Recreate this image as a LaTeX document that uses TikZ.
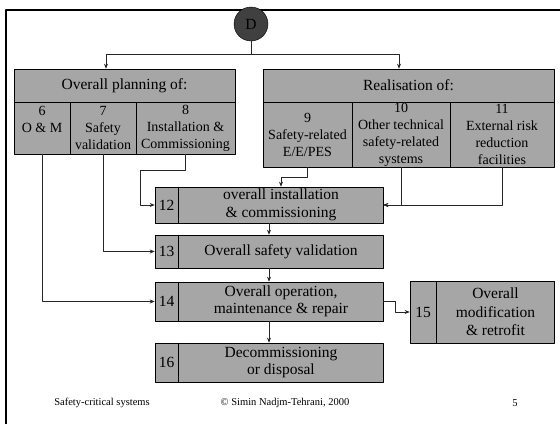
\documentclass[tikz,border=0pt]{standalone}
\usepackage{fontspec}
\setmainfont{Liberation Serif}
\usetikzlibrary{arrows.meta,calc}

\begin{document}
\begin{tikzpicture}[x=1pt,y=-1pt,>={Stealth[length=5pt,width=4pt]},line join=round,
  box/.style={draw=black,fill=gray!70,line width=0.6pt,inner sep=0pt,align=center,font=\fontsize{15.5}{17.5}\selectfont},
  sub/.style={box,font=\fontsize{14}{17}\selectfont},
  txt/.style={inner sep=0pt,align=center,font=\fontsize{15.5}{17.5}\selectfont},
  foot/.style={inner sep=0pt,font=\fontsize{10.5}{12}\selectfont},
  flow/.style={->,line width=0.6pt,black!85}]
  \useasboundingbox (0,0) rectangle (560,424);
  % slide frame
  \draw[line width=2pt] (6,424) -- (6,10) -- (560,10);
  \node[circle,draw=black,fill=black!75,minimum size=34,inner sep=0pt,font=\fontsize{15.5}{17.5}\selectfont] (D) at (251,24) {D};
  % planning
  \node[box,minimum width=221,minimum height=33] (planhead) at (124.5,85.5) {Overall planning of:};
  \node[sub,minimum width=56,minimum height=52] (p6) at (42,128) {6\\O \& M\\\mbox{}};
  \node[sub,minimum width=66,minimum height=52] (p7) at (103,128) {7\\Safety\\validation};
  \node[sub,minimum width=99,minimum height=52] (p8) at (185.5,128) {8\\Installation \&\\Commissioning};
  % realisation
  \node[box,minimum width=291,minimum height=33] (realhead) at (408.5,85.5) {Realisation of:};
  \node[sub,minimum width=89,minimum height=65] (r9) at (307.5,134.5) {9\\Safety-related\\E/E/PES};
  \node[sub,minimum width=98,minimum height=65] (r10) at (401,134.5) {10\\Other technical\\safety-related\\systems};
  \node[sub,minimum width=104,minimum height=65] (r11) at (502,134.5) {11\\External risk\\reduction\\facilities};
  % phases
  \node[box,minimum width=228,minimum height=36] (b12) at (269,205) {};
  \draw[line width=0.6pt] ([xshift=24]b12.north west) -- ([xshift=24]b12.south west);
  \node[txt] (n12) at ($(b12.west)+(12,0)$) {12};
  \node[txt] (t12) at ($(b12.center)+(12,0)$) {overall installation\\\& commissioning};
  \node[box,minimum width=228,minimum height=33] (b13) at (269,251.5) {};
  \draw[line width=0.6pt] ([xshift=24]b13.north west) -- ([xshift=24]b13.south west);
  \node[txt] (n13) at ($(b13.west)+(12,0)$) {13};
  \node[txt] (t13) at ($(b13.center)+(12,0)$) {Overall safety validation};
  \node[box,minimum width=228,minimum height=39] (b14) at (269,301.5) {};
  \draw[line width=0.6pt] ([xshift=24]b14.north west) -- ([xshift=24]b14.south west);
  \node[txt] (n14) at ($(b14.west)+(12,0)$) {14};
  \node[txt] (t14) at ($(b14.center)+(12,0)$) {Overall operation,\\maintenance \& repair};
  \node[box,minimum width=144,minimum height=62] (b15) at (482,312) {};
  \draw[line width=0.6pt] ([xshift=27]b15.north west) -- ([xshift=27]b15.south west);
  \node[txt] (n15) at ($(b15.west)+(13.5,0)$) {15};
  \node[txt,font=\fontsize{15.5}{18.5}\selectfont] (t15) at ($(b15.center)+(13.5,0)$) {Overall\\modification\\\& retrofit};
  \node[box,minimum width=228,minimum height=39] (b16) at (269,362.5) {};
  \draw[line width=0.6pt] ([xshift=24]b16.north west) -- ([xshift=24]b16.south west);
  \node[txt] (n16) at ($(b16.west)+(12,0)$) {16};
  \node[txt] (t16) at ($(b16.center)+(12,0)$) {Decommissioning\\or disposal};
  % connectors
  \coordinate (split) at (251,54);
  \draw[line width=0.6pt,black!85] (D.south) -- (split);
  \draw[flow] (split) -| ([xshift=-18.5]planhead.north);
  \draw[flow] (split) -| ([xshift=-9.5]realhead.north);
  \draw[flow] (p6.south) |- (b14.west);
  \draw[flow] (p7.south) |- (b13.west);
  \draw[flow] (p8.south) -- ++(0,16) -| ($(b12.west)+(-14,0)$) -- (b12.west);
  \draw[flow] (r9.south) -- ++(0,10) -| ([xshift=12]b12.north);
  \draw[flow] (r10.south) |- (b12.east);
  \draw[flow] (r11.south) |- (b12.east);
  \draw[flow] (b12) -- (b13);
  \draw[flow] (b13) -- (b14);
  \draw[flow] (b14) -- (b16);
  \draw[flow] (b14.east) -- ++(12,0) |- (b15.west);
  % footer
  \node[foot] (title) at (102,403) {Safety-critical systems};
  \node[foot] (copy) at (285,403) {© Simin Nadjm-Tehrani, 2000};
  \node[foot] (page) at (515,403) {5};
\end{tikzpicture}
\end{document}
